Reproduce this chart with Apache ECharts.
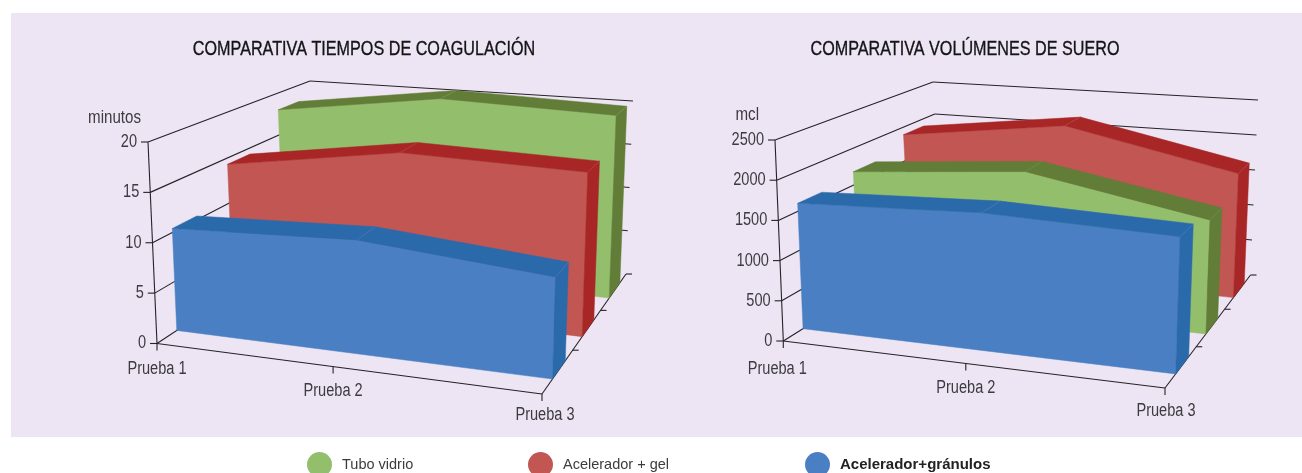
<!DOCTYPE html>
<html>
<head>
<meta charset="utf-8">
<style>
  html, body { margin: 0; padding: 0; background: #fff; overflow: hidden; }
  #main { width: 1302px; height: 473px; }
</style>
<script src="https://cdn.jsdelivr.net/npm/echarts@6/dist/echarts.min.js"></script>
</head>
<body>
<div id="main"></div>
<script>
var categories = ['Prueba 1', 'Prueba 2', 'Prueba 3'];

var timeTicks = [0, 5, 10, 15, 20];
var timeVidrio = [18, 20.6, 20];
var timeGel = [14.3, 17.1, 16.6];
var timeGranulos = [10.4, 11.1, 9.5];

var volumeTicks = [0, 500, 1000, 1500, 2000, 2500];
var volumeVidrio = [1680, 1865, 1436];
var volumeGel = [1890, 2180, 1685];
var volumeGranulos = [1600, 1680, 1600];

var NAME_VIDRIO = 'Tubo vidrio';
var NAME_GEL = 'Acelerador + gel';
var NAME_GRANULOS = 'Acelerador+gránulos';

var FONT = '"Liberation Sans", sans-serif';
var TEXT = '#3d3b40';
var LINE = '#242327';
var NARROW = 0.81; // no condensed face installed, squeeze the text instead

var colors = {};
colors[NAME_VIDRIO] = { front: '#93bf6d', top: '#627d37' };
colors[NAME_GEL] = { front: '#c15653', top: '#a82626' };
colors[NAME_GRANULOS] = { front: '#4a80c3', top: '#2a6aab' };

// the eight corners of each box on the page, the projection is built from these
var timeBox = {
  fl0: [157, 343.5], fr0: [542, 394], bl0: [316, 238.6], br0: [626, 274],
  fl1: [148, 142], fr1: [548.5, 173], bl1: [310, 81], br1: [633, 101],
  tickNudge: [0, -9, 0],
  labelOffset: [[0, 26], [0, 24], [3, 21]]
};
var volumeBox = {
  fl0: [783.3, 341], fr0: [1165, 388], bl0: [942, 242], br0: [1250.5, 275],
  fl1: [775, 140], fr1: [1172, 168], bl1: [933, 82], br1: [1258, 100],
  tickNudge: [0, -1, 0],
  labelOffset: [[-6, 28], [0, 25], [1, 23]]
};

function warp(t, k) {
  return t / (t + (1 - t) * k);
}

function lerp(a, b, t) {
  return [a[0] + (b[0] - a[0]) * t, a[1] + (b[1] - a[1]) * t];
}

// u along categories, v into the page, w up the value axis (all 0..1)
function project(box, u, v, w) {
  var uu = warp(u, 1.08);
  var vv = warp(v, 0.87);
  var base = lerp(lerp(box.fl0, box.fr0, uu), lerp(box.bl0, box.br0, uu), vv);
  var top = lerp(lerp(box.fl1, box.fr1, uu), lerp(box.bl1, box.br1, uu), vv);
  return lerp(base, top, w);
}

function toBox(params, p) {
  var c = params.coordSys;
  return [(p[0] - c.x) / c.width, (c.y + c.height - p[1]) / c.height];
}

function poly(points, fill) {
  return {
    type: 'polygon',
    shape: { points: points },
    style: { fill: fill, stroke: fill, lineWidth: 0.5 }
  };
}

function seg(a, b, color, width) {
  return {
    type: 'line',
    shape: { x1: a[0], y1: a[1], x2: b[0], y2: b[1] },
    style: { stroke: color, lineWidth: width || 1.1 }
  };
}

function label(text, x, y, align) {
  return {
    type: 'text',
    x: x,
    y: y,
    scaleX: NARROW,
    style: {
      text: text,
      fill: TEXT,
      font: '18px ' + FONT,
      align: align || 'center',
      verticalAlign: 'middle'
    }
  };
}

// one band of the 3d area chart, slot 0 is the front one
function bandSeries(name, values, slot, box, axis) {
  var c = colors[name];
  var v0 = slot / 3 + 0.11;
  var v1 = slot / 3 + 0.25;
  return {
    type: 'custom',
    name: name,
    xAxisIndex: axis,
    yAxisIndex: axis,
    silent: true,
    z: 10 + (2 - slot),
    itemStyle: { color: c.front },
    data: values.map(function (v, i) { return [i, v]; }),
    renderItem: function (params, api) {
      var i = api.value(0);
      var children = [];
      var a = toBox(params, api.coord([i, api.value(1)]));
      if (i === 0) {
        // front face in one piece so no seam shows at the middle category
        var edge = values.map(function (v, j) {
          return toBox(params, api.coord([j, v]));
        });
        var outline = edge.map(function (e) { return project(box, e[0], v0, e[1]); });
        outline.push(project(box, edge[edge.length - 1][0], v0, 0));
        outline.push(project(box, edge[0][0], v0, 0));
        children.push(poly(outline, c.front));
      }
      if (i < values.length - 1) {
        var b = toBox(params, api.coord([i + 1, values[i + 1]]));
        children.push(poly([
          project(box, a[0], v0, a[1]), project(box, b[0], v0, b[1]),
          project(box, b[0], v1, b[1]), project(box, a[0], v1, a[1])
        ], c.top));
      } else {
        children.push(poly([
          project(box, a[0], v0, 0), project(box, a[0], v1, 0),
          project(box, a[0], v1, a[1]), project(box, a[0], v0, a[1])
        ], c.top));
      }
      if (i > 0) {
        children.push(seg(project(box, a[0], v0, a[1]), project(box, a[0], v1, a[1]), 'rgba(255,255,255,0.15)', 0.6));
      }
      return { type: 'group', children: children };
    }
  };
}

// walls: one item per value tick
function wallSeries(ticks, box, axis) {
  return {
    type: 'custom',
    xAxisIndex: axis,
    yAxisIndex: axis,
    silent: true,
    z: 2,
    data: ticks.map(function (t) { return [0, t]; }),
    renderItem: function (params, api) {
      var w = toBox(params, api.coord([0, api.value(1)]))[1];
      var fl = project(box, 0, 0, w);
      var bl = project(box, 0, 1, w);
      var br = project(box, 1, 1, w);
      var children = [
        seg([fl[0] - 7, fl[1]], fl, LINE),
        seg(fl, bl, LINE),
        label(String(api.value(1)), fl[0] - 11, fl[1], 'right')
      ];
      if (w > 0) children.push(seg(bl, br, LINE));
      if (params.dataIndex === ticks.length - 1) {
        children.push(seg(fl, project(box, 0, 0, 0), LINE));
      }
      return { type: 'group', children: children };
    }
  };
}

// floor: one item per category, plus the depth ticks on the last one
function floorSeries(box, axis) {
  var slope = (box.fr0[1] - box.fl0[1]) / (box.fr0[0] - box.fl0[0]);
  return {
    type: 'custom',
    xAxisIndex: axis,
    yAxisIndex: axis,
    silent: true,
    z: 3,
    data: categories.map(function (c, i) { return [i, 0]; }),
    renderItem: function (params, api) {
      var i = api.value(0);
      var u = toBox(params, api.coord([i, 0]))[0];
      var p = project(box, u, 0, 0);
      p = [p[0] + box.tickNudge[i], p[1] + box.tickNudge[i] * slope];
      var off = box.labelOffset[i];
      var children = [
        seg(p, [p[0], p[1] + 7], LINE),
        label(categories[i], p[0] + off[0], p[1] + off[1])
      ];
      if (i === categories.length - 1) {
        children.push(seg(project(box, 0, 0, 0), p, LINE));
        children.push(seg(p, project(box, 1, 1, 0), LINE));
        [1, 2, 3].forEach(function (d) {
          var q = project(box, 1, d / 3, 0);
          children.push(seg(q, [q[0] + 6, q[1]], LINE));
        });
      }
      return { type: 'group', children: children };
    }
  };
}

function legendAt(left, name, weight, size) {
  return {
    left: left,
    top: 452,
    padding: 0,
    itemWidth: 25,
    itemHeight: 25,
    selectedMode: false,
    icon: 'circle',
    data: [name],
    textStyle: {
      fontFamily: FONT,
      fontSize: size,
      fontWeight: weight,
      color: weight === 'bold' ? '#222' : TEXT,
      padding: [5, 0, 0, 5]
    }
  };
}

function hiddenGrid(left) {
  return { left: left, top: 100, width: 300, height: 200 };
}

function hiddenX(grid) {
  return { type: 'category', gridIndex: grid, data: categories, boundaryGap: false, show: false };
}

function hiddenY(grid, ticks) {
  return { type: 'value', gridIndex: grid, min: 0, max: ticks[ticks.length - 1], show: false };
}

function titleText(x, text) {
  return {
    type: 'text',
    x: x,
    y: 49,
    scaleX: 0.77,
    silent: true,
    style: {
      text: text,
      fill: '#141316',
      stroke: '#141316',
      lineWidth: 0.35,
      font: '21px ' + FONT,
      align: 'center',
      verticalAlign: 'middle'
    }
  };
}

function unitText(x, y, text) {
  return {
    type: 'text',
    x: x,
    y: y,
    scaleX: 0.84,
    silent: true,
    style: { text: text, fill: TEXT, font: '18px ' + FONT, align: 'right', verticalAlign: 'middle' }
  };
}

var chart = echarts.init(document.getElementById('main'));
chart.setOption({
  animation: false,
  legend: [
    legendAt(307, NAME_VIDRIO, 'normal', 14.5),
    legendAt(528, NAME_GEL, 'normal', 14.5),
    legendAt(805, NAME_GRANULOS, 'bold', 15)
  ],
  graphic: [
    { type: 'rect', z: -10, silent: true, shape: { x: 11, y: 13, width: 1291, height: 424 }, style: { fill: '#ede5f3' } },
    titleText(364, 'COMPARATIVA TIEMPOS DE COAGULACIÓN'),
    titleText(965, 'COMPARATIVA VOLÚMENES DE SUERO'),
    unitText(141, 118, 'minutos'),
    unitText(759, 115, 'mcl')
  ],
  grid: [hiddenGrid(100), hiddenGrid(700)],
  xAxis: [hiddenX(0), hiddenX(1)],
  yAxis: [hiddenY(0, timeTicks), hiddenY(1, volumeTicks)],
  series: [
    wallSeries(timeTicks, timeBox, 0),
    floorSeries(timeBox, 0),
    bandSeries(NAME_VIDRIO, timeVidrio, 2, timeBox, 0),
    bandSeries(NAME_GEL, timeGel, 1, timeBox, 0),
    bandSeries(NAME_GRANULOS, timeGranulos, 0, timeBox, 0),
    wallSeries(volumeTicks, volumeBox, 1),
    floorSeries(volumeBox, 1),
    bandSeries(NAME_GEL, volumeGel, 2, volumeBox, 1),
    bandSeries(NAME_VIDRIO, volumeVidrio, 1, volumeBox, 1),
    bandSeries(NAME_GRANULOS, volumeGranulos, 0, volumeBox, 1)
  ]
});
</script>
</body>
</html>
